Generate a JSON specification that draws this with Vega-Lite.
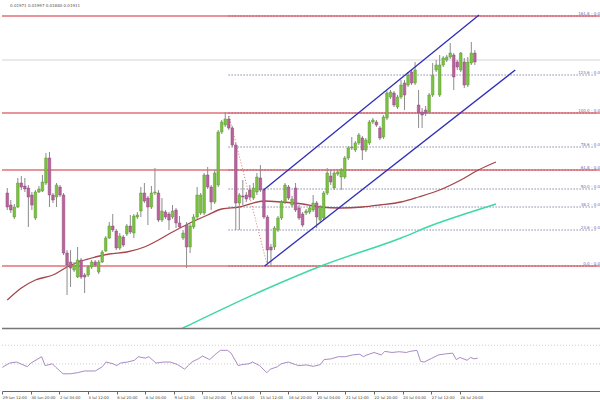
{
  "$schema": "https://vega.github.io/schema/vega-lite/v6.json",
  "padding": 0,
  "spacing": 1,
  "background": "white",
  "config": {"view": {"stroke": null}, "font": "DejaVu Sans"},
  "datasets": {
    "candles": [
      {"i":0,"o":135,"c":121,"h":140,"l":118},{"i":1,"o":123,"c":118,"h":128,"l":115},{"i":2,"o":111,"c":121,"h":124,"l":109},{"i":3,"o":121,"c":145,"h":150,"l":120},{"i":4,"o":145,"c":141,"h":152,"l":138},{"i":5,"o":142,"c":139,"h":150,"l":136},{"i":6,"o":140,"c":131,"h":143,"l":101},{"i":7,"o":133,"c":123,"h":136,"l":118},{"i":8,"o":110,"c":136,"h":138,"l":108},{"i":9,"o":136,"c":139,"h":142,"l":135},
      {"i":10,"o":137,"c":146,"h":153,"l":136},{"i":11,"o":145,"c":170,"h":175,"l":143},{"i":12,"o":170,"c":133,"h":176,"l":121},{"i":13,"o":133,"c":128,"h":135,"l":125},{"i":14,"o":131,"c":143,"h":145,"l":121},{"i":15,"o":141,"c":133,"h":143,"l":131},{"i":16,"o":133,"c":75,"h":135,"l":73},{"i":17,"o":75,"c":63,"h":78,"l":33},{"i":18,"o":66,"c":60,"h":78,"l":41},{"i":19,"o":58,"c":63,"h":66,"l":56},
      {"i":20,"o":51,"c":68,"h":81,"l":50},{"i":21,"o":68,"c":51,"h":70,"l":49},{"i":22,"o":53,"c":51,"h":55,"l":35},{"i":23,"o":53,"c":61,"h":63,"l":51},{"i":24,"o":61,"c":66,"h":68,"l":59},{"i":25,"o":66,"c":63,"h":68,"l":61},{"i":26,"o":56,"c":66,"h":68,"l":54},{"i":27,"o":66,"c":76,"h":78,"l":65},{"i":28,"o":77,"c":90,"h":92,"l":76},{"i":29,"o":90,"c":102,"h":106,"l":89},
      {"i":30,"o":102,"c":98,"h":114,"l":96},{"i":31,"o":97,"c":80,"h":99,"l":78},{"i":32,"o":80,"c":92,"h":95,"l":78},{"i":33,"o":91,"c":83,"h":93,"l":81},{"i":34,"o":94,"c":102,"h":104,"l":92},{"i":35,"o":102,"c":96,"h":113,"l":94},{"i":36,"o":95,"c":112,"h":114,"l":90},{"i":37,"o":111,"c":113,"h":116,"l":109},{"i":38,"o":117,"c":135,"h":141,"l":111},{"i":39,"o":135,"c":127,"h":145,"l":125},
      {"i":40,"o":130,"c":121,"h":132,"l":103},{"i":41,"o":121,"c":135,"h":142,"l":119},{"i":42,"o":135,"c":136,"h":160,"l":133},{"i":43,"o":135,"c":108,"h":138,"l":106},{"i":44,"o":108,"c":117,"h":130,"l":106},{"i":45,"o":116,"c":111,"h":118,"l":109},{"i":46,"o":114,"c":108,"h":116,"l":98},{"i":47,"o":111,"c":117,"h":123,"l":109},{"i":48,"o":118,"c":105,"h":120,"l":100},{"i":49,"o":105,"c":101,"h":112,"l":99},
      {"i":50,"o":90,"c":95,"h":98,"l":88},{"i":51,"o":103,"c":81,"h":106,"l":60},{"i":52,"o":81,"c":102,"h":104,"l":75},{"i":53,"o":101,"c":111,"h":114,"l":99},{"i":54,"o":111,"c":133,"h":141,"l":109},{"i":55,"o":115,"c":133,"h":135,"l":113},{"i":56,"o":115,"c":153,"h":155,"l":113},{"i":57,"o":153,"c":141,"h":161,"l":139},{"i":58,"o":141,"c":126,"h":143,"l":118},{"i":59,"o":126,"c":155,"h":158,"l":124},
      {"i":60,"o":143,"c":196,"h":198,"l":141},{"i":61,"o":196,"c":206,"h":208,"l":194},{"i":62,"o":203,"c":209,"h":216,"l":201},{"i":63,"o":209,"c":200,"h":212,"l":198},{"i":64,"o":200,"c":183,"h":202,"l":181},{"i":65,"o":183,"c":125,"h":185,"l":98},{"i":66,"o":125,"c":133,"h":135,"l":98},{"i":67,"o":132,"c":131,"h":148,"l":123},{"i":68,"o":133,"c":129,"h":136,"l":126},{"i":69,"o":138,"c":131,"h":143,"l":128},
      {"i":70,"o":130,"c":140,"h":145,"l":128},{"i":71,"o":136,"c":151,"h":155,"l":133},{"i":72,"o":150,"c":138,"h":163,"l":136},{"i":73,"o":138,"c":111,"h":140,"l":109},{"i":74,"o":111,"c":78,"h":113,"l":65},{"i":75,"o":81,"c":78,"h":84,"l":63},{"i":76,"o":81,"c":100,"h":102,"l":78},{"i":77,"o":98,"c":110,"h":112,"l":96},{"i":78,"o":110,"c":126,"h":128,"l":108},{"i":79,"o":126,"c":143,"h":145,"l":124},
      {"i":80,"o":141,"c":130,"h":143,"l":128},{"i":81,"o":123,"c":129,"h":132,"l":121},{"i":82,"o":140,"c":118,"h":145,"l":116},{"i":83,"o":120,"c":110,"h":123,"l":108},{"i":84,"o":114,"c":103,"h":116,"l":101},{"i":85,"o":115,"c":117,"h":119,"l":113},{"i":86,"o":116,"c":120,"h":122,"l":114},{"i":87,"o":118,"c":125,"h":133,"l":116},{"i":88,"o":125,"c":111,"h":127,"l":100},{"i":89,"o":108,"c":121,"h":123,"l":106},
      {"i":90,"o":110,"c":135,"h":137,"l":108},{"i":91,"o":135,"c":155,"h":160,"l":133},{"i":92,"o":152,"c":146,"h":158,"l":143},{"i":93,"o":140,"c":155,"h":157,"l":138},{"i":94,"o":154,"c":156,"h":158,"l":152},{"i":95,"o":151,"c":158,"h":160,"l":138},{"i":96,"o":151,"c":170,"h":172,"l":149},{"i":97,"o":170,"c":180,"h":182,"l":168},{"i":98,"o":180,"c":181,"h":191,"l":178},{"i":99,"o":178,"c":185,"h":187,"l":176},
      {"i":100,"o":185,"c":193,"h":195,"l":183},{"i":101,"o":190,"c":178,"h":192,"l":168},{"i":102,"o":178,"c":188,"h":190,"l":176},{"i":103,"o":185,"c":206,"h":208,"l":183},{"i":104,"o":206,"c":208,"h":210,"l":204},{"i":105,"o":206,"c":203,"h":208,"l":201},{"i":106,"o":200,"c":190,"h":202,"l":188},{"i":107,"o":191,"c":211,"h":213,"l":189},{"i":108,"o":210,"c":235,"h":237,"l":208},{"i":109,"o":231,"c":236,"h":238,"l":229},
      {"i":110,"o":235,"c":223,"h":237,"l":221},{"i":111,"o":221,"c":231,"h":233,"l":219},{"i":112,"o":231,"c":243,"h":248,"l":229},{"i":113,"o":245,"c":233,"h":248,"l":218},{"i":114,"o":243,"c":253,"h":256,"l":241},{"i":115,"o":256,"c":245,"h":258,"l":243},{"i":116,"o":245,"c":258,"h":266,"l":243},{"i":117,"o":223,"c":215,"h":238,"l":200},{"i":118,"o":216,"c":213,"h":220,"l":200},{"i":119,"o":218,"c":215,"h":222,"l":212},
      {"i":120,"o":216,"c":233,"h":235,"l":214},{"i":121,"o":233,"c":253,"h":265,"l":231},{"i":122,"o":258,"c":263,"h":268,"l":256},{"i":123,"o":233,"c":263,"h":273,"l":231},{"i":124,"o":263,"c":270,"h":272,"l":261},{"i":125,"o":268,"c":271,"h":273,"l":266},{"i":126,"o":271,"c":275,"h":285,"l":269},{"i":127,"o":273,"c":251,"h":275,"l":238},{"i":128,"o":266,"c":261,"h":268,"l":258},{"i":129,"o":258,"c":275,"h":276,"l":256},
      {"i":130,"o":266,"c":243,"h":270,"l":240},{"i":131,"o":243,"c":266,"h":271,"l":241},{"i":132,"o":265,"c":275,"h":286,"l":263},{"i":133,"o":275,"c":266,"h":278,"l":263}
    ],
    "levels": [{"v":312},{"v":215},{"v":158},{"v":62}],
    "fib": [
      {"v":312,"t":"161.8 - 0.02115"},{"v":253,"t":"123.6 - 0.01962"},{"v":215,"t":"100.0 - 0.01867"},
      {"v":181,"t":"78.6 - 0.01781"},{"v":158,"t":"61.8 - 0.01714"},{"v":139,"t":"50.0 - 0.01667"},
      {"v":121,"t":"38.2 - 0.01619"},{"v":98,"t":"23.6 - 0.01561"},{"v":62,"t":"0.0 - 0.01466"}
    ],
    "price": [{"v":268}],
    "sep": [{"v":-0.5}],
    "ohlc": [{"t":"0.01971 0.01997 0.01880 0.01911"}],
    "ma100": [
      {"i":0,"v":28},{"i":4,"v":40},{"i":8,"v":48},{"i":13,"v":53},{"i":17,"v":61},{"i":21,"v":67},{"i":25,"v":71},{"i":29,"v":74},{"i":34,"v":76},{"i":39,"v":81},{"i":43,"v":88},{"i":47,"v":96},{"i":52,"v":105},{"i":57,"v":113},{"i":61,"v":119},{"i":66,"v":121},{"i":73,"v":127},{"i":78,"v":126},{"i":84,"v":124},{"i":89,"v":121},{"i":95,"v":120},{"i":101,"v":121},{"i":106,"v":123},{"i":112,"v":126},{"i":117,"v":131},{"i":123,"v":138},{"i":129,"v":148},{"i":134,"v":158},{"i":139,"v":166}
    ],
    "ma200": [
      {"i":36,"v":-24},{"i":50,"v":0},{"i":73,"v":38},{"i":90,"v":63},{"i":112,"v":90},{"i":121,"v":103},{"i":131,"v":115},{"i":139,"v":124}
    ],
    "channel": [
      {"line":"upper","i":72.9,"v":138},{"line":"upper","i":134.2,"v":313},
      {"line":"lower","i":73.2,"v":62},{"line":"lower","i":144.5,"v":258}
    ],
    "fibdiag": [{"i":62.85,"v":215},{"i":74.0,"v":62}],
    "rsi": [
      {"i":0,"v":22.5},{"i":2,"v":31.7},{"i":4,"v":34},{"i":7,"v":24},{"i":8,"v":31.7},{"i":11,"v":45.5},{"i":12,"v":26.3},{"i":14,"v":30.2},{"i":15,"v":22.5},{"i":17,"v":8.7},{"i":19,"v":8.7},{"i":21,"v":11},{"i":23,"v":14.8},{"i":26,"v":14.8},{"i":28,"v":24},{"i":29,"v":34},{"i":31,"v":30.2},{"i":32,"v":26.3},{"i":33,"v":31.7},{"i":35,"v":34},{"i":37,"v":37.8},{"i":38,"v":45.5},{"i":40,"v":42.4},{"i":41,"v":45.5},{"i":43,"v":31.7},{"i":45,"v":34},{"i":47,"v":34},{"i":49,"v":28.6},{"i":51,"v":18.7},{"i":52,"v":26.3},{"i":53,"v":34},{"i":55,"v":41.6},{"i":56,"v":47},{"i":58,"v":39.3},{"i":60,"v":53.1},{"i":61,"v":59.2},{"i":63,"v":59.2},{"i":64,"v":53.1},{"i":66,"v":26.3},{"i":67,"v":28.6},{"i":69,"v":30.2},{"i":70,"v":34},{"i":72,"v":26.3},{"i":74,"v":11},{"i":75,"v":18.7},{"i":77,"v":24},{"i":78,"v":30.2},{"i":80,"v":34},{"i":82,"v":28.6},{"i":83,"v":26.3},{"i":85,"v":27.9},{"i":87,"v":24.8},{"i":89,"v":28.6},{"i":90,"v":39.3},{"i":92,"v":40.9},{"i":94,"v":45.5},{"i":96,"v":45.5},{"i":98,"v":49.3},{"i":100,"v":50.8},{"i":101,"v":45.5},{"i":102,"v":49.3},{"i":104,"v":54.6},{"i":106,"v":49.3},{"i":107,"v":56.9},{"i":109,"v":54.6},{"i":111,"v":56.2},{"i":113,"v":54.6},{"i":114,"v":56.9},{"i":116,"v":59.2},{"i":117,"v":35.5},{"i":118,"v":34},{"i":120,"v":41.6},{"i":122,"v":49.3},{"i":124,"v":51.6},{"i":126,"v":53.1},{"i":127,"v":39.3},{"i":128,"v":43.9},{"i":130,"v":37.8},{"i":131,"v":43.9},{"i":132,"v":40.9},{"i":133,"v":42.4}
    ],
    "rsilevels": [{"v":70},{"v":30}]
  },
  "vconcat": [
    {
      "width": 600,
      "height": 329,
      "layer": [
        {
          "data": {"name": "price"},
          "mark": {"type": "rule", "color": "#d4d4d4", "strokeWidth": 1},
          "encoding": {"y": {"field": "v", "type": "quantitative", "scale": {"domain": [-1, 328], "nice": false, "zero": false}, "axis": null}}
        },
        {
          "data": {"name": "fib"},
          "mark": {"type": "rule", "color": "#8a8aae", "strokeWidth": 1, "strokeDash": [1.5, 1.5]},
          "encoding": {
            "x": {"datum": 62.9, "type": "quantitative", "scale": {"domain": [-0.08, 167.75], "nice": false, "zero": false}, "axis": null},
            "x2": {"datum": 167.75},
            "y": {"field": "v", "type": "quantitative", "scale": {"domain": [-1, 328], "nice": false, "zero": false}, "axis": null}
          }
        },
        {
          "data": {"name": "levels"},
          "mark": {"type": "rule", "color": "#d42a36", "strokeWidth": 1.2},
          "encoding": {"y": {"field": "v", "type": "quantitative", "scale": {"domain": [-1, 328], "nice": false, "zero": false}, "axis": null}}
        },
        {
          "data": {"name": "fibdiag"},
          "mark": {"type": "line", "color": "#d07868", "strokeWidth": 1, "strokeDash": [1, 2]},
          "encoding": {
            "x": {"field": "i", "type": "quantitative", "scale": {"domain": [-0.08, 167.75], "nice": false, "zero": false}, "axis": null},
            "y": {"field": "v", "type": "quantitative", "scale": {"domain": [-1, 328], "nice": false, "zero": false}, "axis": null}
          }
        },
        {
          "data": {"name": "ma200"},
          "mark": {"type": "line", "color": "#3ed8a4", "strokeWidth": 1.4, "clip": true, "interpolate": "monotone"},
          "encoding": {
            "x": {"field": "i", "type": "quantitative", "scale": {"domain": [-0.08, 167.75], "nice": false, "zero": false}, "axis": null},
            "y": {"field": "v", "type": "quantitative", "scale": {"domain": [-1, 328], "nice": false, "zero": false}, "axis": null}
          }
        },
        {
          "data": {"name": "ma100"},
          "mark": {"type": "line", "color": "#a5454a", "strokeWidth": 1.3, "interpolate": "monotone"},
          "encoding": {
            "x": {"field": "i", "type": "quantitative", "scale": {"domain": [-0.08, 167.75], "nice": false, "zero": false}, "axis": null},
            "y": {"field": "v", "type": "quantitative", "scale": {"domain": [-1, 328], "nice": false, "zero": false}, "axis": null}
          }
        },
        {
          "data": {"name": "candles"},
          "mark": {"type": "rule", "color": "#8c8c8c", "strokeWidth": 1},
          "encoding": {
            "x": {"field": "i", "type": "quantitative", "scale": {"domain": [-0.08, 167.75], "nice": false, "zero": false}, "axis": null},
            "y": {"field": "l", "type": "quantitative", "scale": {"domain": [-1, 328], "nice": false, "zero": false}, "axis": null},
            "y2": {"field": "h"}
          }
        },
        {
          "data": {"name": "candles"},
          "mark": {"type": "bar", "size": 2.6, "strokeWidth": 0.5},
          "encoding": {
            "x": {"field": "i", "type": "quantitative", "scale": {"domain": [-0.08, 167.75], "nice": false, "zero": false}, "axis": null},
            "y": {"field": "o", "type": "quantitative", "scale": {"domain": [-1, 328], "nice": false, "zero": false}, "axis": null},
            "y2": {"field": "c"},
            "color": {"condition": {"test": "datum.c >= datum.o", "value": "#7cc142"}, "value": "#b8639c"},
            "stroke": {"condition": {"test": "datum.c >= datum.o", "value": "#5b9a30"}, "value": "#91497a"}
          }
        },
        {
          "data": {"name": "channel"},
          "mark": {"type": "line", "color": "#2e2eb8", "strokeWidth": 1.3, "clip": true},
          "encoding": {
            "x": {"field": "i", "type": "quantitative", "scale": {"domain": [-0.08, 167.75], "nice": false, "zero": false}, "axis": null},
            "y": {"field": "v", "type": "quantitative", "scale": {"domain": [-1, 328], "nice": false, "zero": false}, "axis": null},
            "detail": {"field": "line"}
          }
        },
        {
          "data": {"name": "fib"},
          "mark": {"type": "text", "align": "right", "baseline": "bottom", "dy": -0.5, "fontSize": 4, "color": "#6e6ea8", "clip": true},
          "encoding": {
            "x": {"datum": 171.5, "type": "quantitative", "scale": {"domain": [-0.08, 167.75], "nice": false, "zero": false}, "axis": null},
            "y": {"field": "v", "type": "quantitative", "scale": {"domain": [-1, 328], "nice": false, "zero": false}, "axis": null},
            "text": {"field": "t"}
          }
        },
        {
          "data": {"name": "ohlc"},
          "mark": {"type": "text", "align": "left", "baseline": "alphabetic", "fontSize": 4, "color": "#555555"},
          "encoding": {
            "x": {"datum": 0.8, "type": "quantitative", "scale": {"domain": [-0.08, 167.75], "nice": false, "zero": false}, "axis": null},
            "y": {"datum": 321, "type": "quantitative", "scale": {"domain": [-1, 328], "nice": false, "zero": false}, "axis": null},
            "text": {"field": "t"}
          }
        },
        {
          "data": {"name": "sep"},
          "mark": {"type": "rule", "color": "#767676", "strokeWidth": 1.6},
          "encoding": {"y": {"field": "v", "type": "quantitative", "scale": {"domain": [-1, 328], "nice": false, "zero": false}, "axis": null}}
        }
      ]
    },
    {
      "width": 600,
      "height": 60,
      "layer": [
        {
          "data": {"name": "rsilevels"},
          "mark": {"type": "rule", "color": "#c4c4c4", "strokeWidth": 0.8, "strokeDash": [1, 2]},
          "encoding": {
            "x": {"datum": -0.08, "type": "quantitative", "scale": {"domain": [-0.08, 167.75], "nice": false, "zero": false},
              "axis": {"values": [0,8,16,24,32,40,48,56,64,72,80,88,96,104,112,120,128], "labelExpr": "['29 Jun 12:00','30 Jun 20:00','2 Jul 04:00','3 Jul 12:00','6 Jul 20:00','8 Jul 04:00','9 Jul 12:00','10 Jul 20:00','14 Jul 04:00','15 Jul 12:00','16 Jul 20:00','20 Jul 04:00','21 Jul 12:00','22 Jul 20:00','24 Jul 04:00','27 Jul 12:00','28 Jul 20:00'][round(datum.value/8)]", "labelAlign": "left", "labelBaseline": "top", "labelFontSize": 3.8, "labelColor": "#444444", "labelPadding": 1, "labelOverlap": false, "labelFlush": false, "labelBound": false, "tickSize": 3, "tickColor": "#666666", "domainColor": "#666666", "grid": false, "title": null}},
            "x2": {"datum": 167.75},
            "y": {"field": "v", "type": "quantitative", "scale": {"domain": [-28.3, 100.8], "nice": false, "zero": false}, "axis": null}
          }
        },
        {
          "data": {"name": "rsi"},
          "mark": {"type": "line", "color": "#a98bc6", "strokeWidth": 1},
          "encoding": {
            "x": {"field": "i", "type": "quantitative", "scale": {"domain": [-0.08, 167.75], "nice": false, "zero": false},
              "axis": {"values": [0,8,16,24,32,40,48,56,64,72,80,88,96,104,112,120,128], "labelExpr": "['29 Jun 12:00','30 Jun 20:00','2 Jul 04:00','3 Jul 12:00','6 Jul 20:00','8 Jul 04:00','9 Jul 12:00','10 Jul 20:00','14 Jul 04:00','15 Jul 12:00','16 Jul 20:00','20 Jul 04:00','21 Jul 12:00','22 Jul 20:00','24 Jul 04:00','27 Jul 12:00','28 Jul 20:00'][round(datum.value/8)]", "labelAlign": "left", "labelBaseline": "top", "labelFontSize": 3.8, "labelColor": "#444444", "labelPadding": 1, "labelOverlap": false, "labelFlush": false, "labelBound": false, "tickSize": 3, "tickColor": "#666666", "domainColor": "#666666", "grid": false, "title": null}},
            "y": {"field": "v", "type": "quantitative", "scale": {"domain": [-28.3, 100.8], "nice": false, "zero": false}, "axis": null}
          }
        }
      ]
    }
  ]
}
